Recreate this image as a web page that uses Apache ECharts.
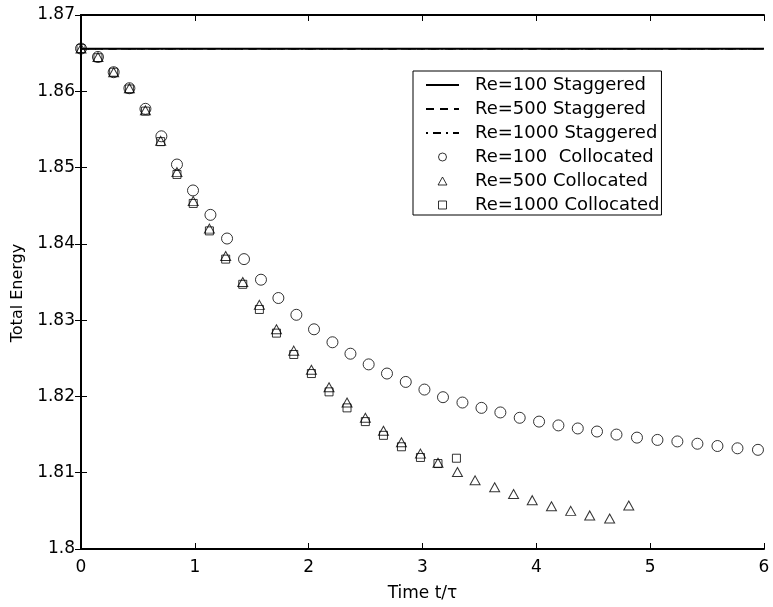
<!DOCTYPE html>
<html>
<head>
<meta charset="utf-8">
<script src="https://cdn.jsdelivr.net/npm/echarts@6/dist/echarts.min.js"></script>
<style>
  html, body { margin: 0; padding: 0; background: #fff; }
  #chart { width: 773px; height: 607px; }
</style>
</head>
<body>
<div id="chart"></div>
<script>
// ---- data ----
const xTickLabels = ['0', '1', '2', '3', '4', '5', '6'];
const yTickLabels = ['1.8', '1.81', '1.82', '1.83', '1.84', '1.85', '1.86', '1.87'];

const tStaggered = [0, 6];
const eRe100Staggered = [1.86558, 1.86558];
const eRe500Staggered = [1.86558, 1.86558];
const eRe1000Staggered = [1.86558, 1.86558];

const tRe100Collocated = [0, 0.149, 0.287, 0.425, 0.566, 0.706, 0.843, 0.984, 1.137, 1.283,
  1.432, 1.581, 1.734, 1.892, 2.047, 2.209, 2.367, 2.527, 2.688, 2.853,
  3.017, 3.180, 3.351, 3.518, 3.684, 3.854, 4.024, 4.194, 4.364, 4.533,
  4.704, 4.884, 5.064, 5.239, 5.415, 5.591, 5.767, 5.947];
const eRe100Collocated = [1.8656, 1.8645, 1.8625, 1.8604, 1.8577, 1.8541, 1.8504, 1.8470, 1.8438, 1.8407,
  1.8380, 1.8353, 1.8329, 1.8307, 1.8288, 1.8271, 1.8256, 1.8242, 1.8230, 1.8219,
  1.8209, 1.8199, 1.8192, 1.8185, 1.8179, 1.8172, 1.8167, 1.8162, 1.8158, 1.8154,
  1.8150, 1.8146, 1.8143, 1.8141, 1.8138, 1.8135, 1.8132, 1.8130];

const tRe500Collocated = [0, 0.149, 0.287, 0.425, 0.566, 0.700, 0.843, 0.986, 1.128, 1.271,
  1.421, 1.567, 1.717, 1.869, 2.024, 2.179, 2.337, 2.498, 2.657, 2.815,
  2.982, 3.136, 3.307, 3.462, 3.634, 3.800, 3.964, 4.133, 4.302, 4.469,
  4.644, 4.812];
const eRe500Collocated = [1.8656, 1.8645, 1.8625, 1.8604, 1.8575, 1.8535, 1.8494, 1.8456, 1.8420, 1.8384,
  1.8350, 1.8320, 1.8288, 1.8260, 1.8235, 1.8212, 1.8192, 1.8172, 1.8155, 1.8140,
  1.8125, 1.8113, 1.8101, 1.8090, 1.8081, 1.8072, 1.8064, 1.8056, 1.8050, 1.8044,
  1.8040, 1.8057];

const tRe1000Collocated = [0, 0.149, 0.287, 0.425, 0.566, 0.700, 0.843, 0.986, 1.128, 1.271,
  1.421, 1.567, 1.717, 1.869, 2.024, 2.179, 2.337, 2.498, 2.657, 2.815,
  2.982, 3.136, 3.298];
const eRe1000Collocated = [1.8656, 1.8644, 1.8625, 1.8603, 1.8574, 1.8534, 1.8491, 1.8453, 1.8417, 1.8380,
  1.8347, 1.8314, 1.8283, 1.8255, 1.8230, 1.8206, 1.8185, 1.8167, 1.8149, 1.8134,
  1.8120, 1.8112, 1.8119];

const seriesNames = ['Re=100 Staggered', 'Re=500 Staggered', 'Re=1000 Staggered',
  'Re=100  Collocated', 'Re=500 Collocated', 'Re=1000 Collocated'];

// ---- chart ----
const FONT = '"DejaVu Sans", Verdana, sans-serif';
const zip = (xs, ys) => xs.map((x, i) => [x, ys[i]]);
const markerStyle = { color: 'rgba(0,0,0,0)', borderColor: '#000', borderWidth: 1 };
const noSymbol = { color: 'rgba(0,0,0,0)', borderColor: 'rgba(0,0,0,0)', borderWidth: 0 };
const TRIANGLE_ICON = 'path://M5,0L10,9L0,9Z';
const SQUARE_ICON = 'path://M0,0L10,0L10,10L0,10Z';

const axisCommon = {
  axisLine: { show: true, lineStyle: { color: '#000', width: 2 } },
  axisTick: { show: true, inside: true, length: 6, lineStyle: { color: '#000', width: 1 } },
  splitLine: { show: false }
};

const chart = echarts.init(document.getElementById('chart'), null, { renderer: 'canvas' });
chart.setOption({
  animation: false,
  backgroundColor: '#fff',
  grid: { left: 81, right: 9, top: 15, bottom: 54, containLabel: false },
  xAxis: [
    Object.assign({
      type: 'value', min: 0, max: 6, interval: 1, position: 'bottom',
      name: 'Time t/\u03c4', nameLocation: 'middle', nameGap: 36,
      nameTextStyle: { fontFamily: FONT, fontSize: 17, color: '#000' },
      axisLabel: { margin: 10, fontFamily: FONT, fontSize: 17, color: '#000',
        formatter: (v, i) => xTickLabels[i] }
    }, axisCommon),
    Object.assign({
      type: 'value', min: 0, max: 6, interval: 1, position: 'top',
      axisLabel: { show: false }
    }, axisCommon)
  ],
  yAxis: [
    Object.assign({
      type: 'value', min: 1.8, max: 1.87, interval: 0.01, position: 'left',
      name: 'Total Energy', nameLocation: 'middle', nameGap: 50,
      nameTextStyle: { fontFamily: FONT, fontSize: 16, color: '#000', padding: [0, 22, 0, 0] },
      axisLabel: { margin: 6, fontFamily: FONT, fontSize: 17, color: '#000',
        formatter: (v, i) => yTickLabels[i] }
    }, axisCommon),
    Object.assign({
      type: 'value', min: 1.8, max: 1.87, interval: 0.01, position: 'right',
      axisLabel: { show: false }
    }, axisCommon)
  ],
  legend: {
    orient: 'vertical', left: 413, top: 71,
    itemWidth: 33, itemHeight: 8, itemGap: 4,
    padding: [4, 2, 0, 12],
    symbolKeepAspect: true,
    borderColor: '#000', borderWidth: 1, backgroundColor: '#fff',
    textStyle: { fontFamily: FONT, fontSize: 18, color: '#000', lineHeight: 20, padding: [0, 0, 0, 11] },
    itemStyle: { borderWidth: 1 },
    data: [
      { name: seriesNames[0], itemStyle: noSymbol },
      { name: seriesNames[1], itemStyle: noSymbol },
      { name: seriesNames[2], itemStyle: noSymbol },
      { name: seriesNames[3], icon: 'circle' },
      { name: seriesNames[4], icon: TRIANGLE_ICON },
      { name: seriesNames[5], icon: SQUARE_ICON }
    ]
  },
  series: [
    { name: seriesNames[1], type: 'line', data: zip(tStaggered, eRe500Staggered), symbol: 'none',
      lineStyle: { color: '#000', width: 1.5, type: [8, 6] }, itemStyle: { color: '#000' }, z: 2 },
    { name: seriesNames[2], type: 'line', data: zip(tStaggered, eRe1000Staggered), symbol: 'none',
      lineStyle: { color: '#000', width: 1.5, type: [2, 5, 8, 5] }, itemStyle: { color: '#000' }, z: 2 },
    { name: seriesNames[0], type: 'line', data: zip(tStaggered, eRe100Staggered), symbol: 'none',
      lineStyle: { color: '#000', width: 2, type: 'solid' }, itemStyle: { color: '#000' }, z: 3 },
    { name: seriesNames[3], type: 'scatter', data: zip(tRe100Collocated, eRe100Collocated),
      symbol: 'circle', symbolSize: 11, itemStyle: markerStyle, z: 4 },
    { name: seriesNames[4], type: 'scatter', data: zip(tRe500Collocated, eRe500Collocated),
      symbol: 'triangle', symbolSize: [10, 9], itemStyle: markerStyle, z: 4 },
    { name: seriesNames[5], type: 'scatter', data: zip(tRe1000Collocated, eRe1000Collocated),
      symbol: 'rect', symbolSize: 8, itemStyle: markerStyle, z: 4 }
  ]
});
</script>
</body>
</html>
